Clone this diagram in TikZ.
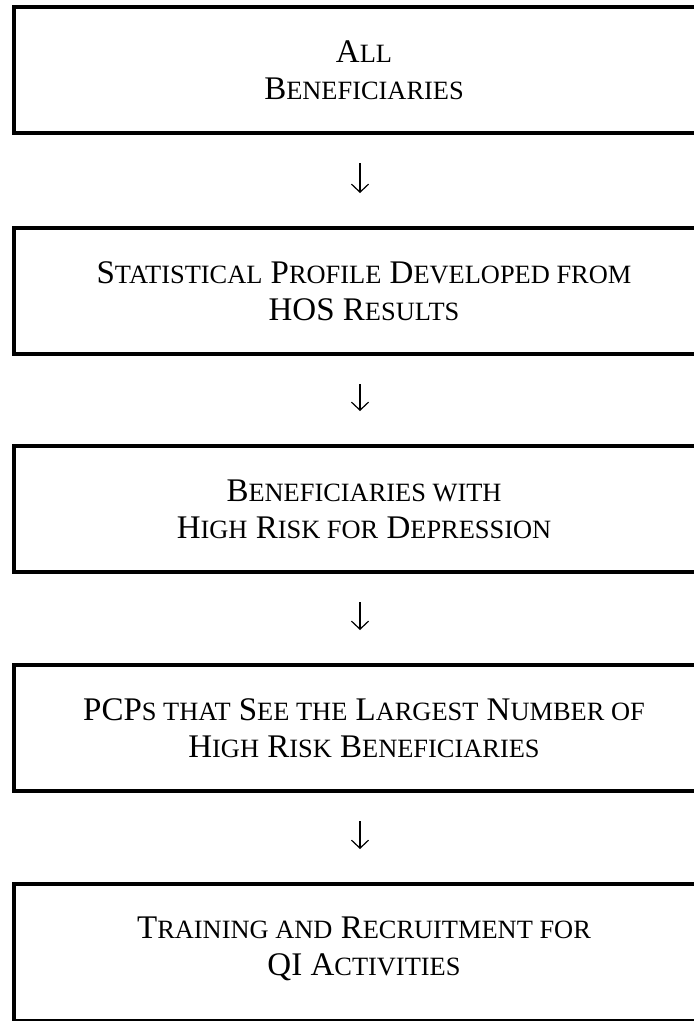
\documentclass[tikz,border=0pt]{standalone}
\usepackage{fontspec}
\setmainfont{Liberation Serif}
\usetikzlibrary{arrows.meta}
\newcommand\sml[1]{{\fontsize{26.4}{37}\selectfont #1}}
\tikzset{
    box/.style={draw, line width=4pt, minimum width=700pt, minimum height=126pt,
        align=center, text depth=0pt, font=\fontsize{33}{37}\selectfont},
    down/.style={-{Straight Barb[length=8pt,width=17pt]}, line width=1.2pt,
        shorten <=28pt, shorten >=33pt}
}

\begin{document}
\begin{tikzpicture}[x=1pt, y=-1pt]
    \useasboundingbox (0,0) rectangle (694,1021);
    \node[box] (all) at (364,70) {A\sml{LL}\\B\sml{ENEFICIARIES}};
    \node[box] (hos) at (364,291) {S\sml{TATISTICAL} P\sml{ROFILE} D\sml{EVELOPED FROM}\\HOS R\sml{ESULTS}};
    \node[box] (risk) at (364,509) {B\sml{ENEFICIARIES WITH}\\H\sml{IGH} R\sml{ISK FOR} D\sml{EPRESSION}};
    \node[box] (pcp) at (364,728) {PCP\sml{S THAT} S\sml{EE THE} L\sml{ARGEST} N\sml{UMBER OF}\\H\sml{IGH} R\sml{ISK} B\sml{ENEFICIARIES}};
    \node[box, minimum height=137pt, text depth=12pt] (qi) at (364,952.5) {T\sml{RAINING AND} R\sml{ECRUITMENT FOR}\\QI A\sml{CTIVITIES}};
    \draw[down] ([xshift=-4pt]all.south) -- ([xshift=-4pt]hos.north);
    \draw[down] ([xshift=-4pt]hos.south) -- ([xshift=-4pt]risk.north);
    \draw[down] ([xshift=-4pt]risk.south) -- ([xshift=-4pt]pcp.north);
    \draw[down] ([xshift=-4pt]pcp.south) -- ([xshift=-4pt]qi.north);
\end{tikzpicture}
\end{document}
